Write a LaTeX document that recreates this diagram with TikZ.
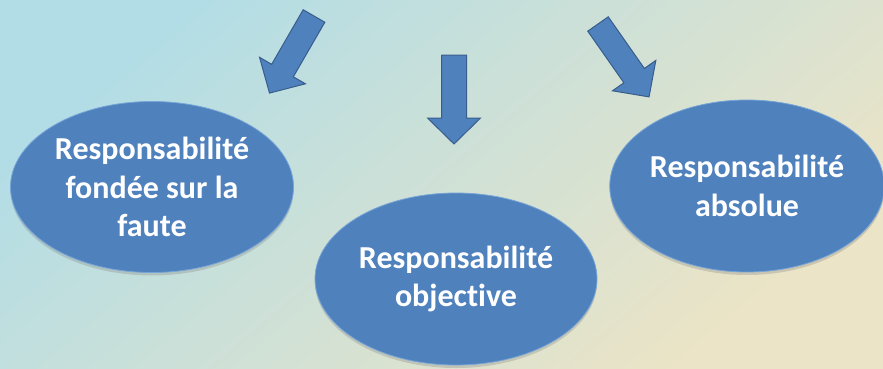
\documentclass[tikz,border=0pt]{standalone}
\usepackage{fontspec}
\setmainfont{Carlito}[Ligatures=NoCommon]
\definecolor{bgblue}{RGB}{178, 221, 230}
\definecolor{bgmid}{RGB}{208, 229, 225}
\definecolor{bgbeige}{RGB}{236, 228, 198}
\definecolor{ellblue}{RGB}{79, 129, 189}
\definecolor{ellrim}{RGB}{120, 165, 215}
\definecolor{arrowedge}{RGB}{56, 93, 140}
\usetikzlibrary{shapes.geometric, shadows}

\tikzset{
  idea/.style={ellipse, fill=ellblue, draw=ellrim, line width=0.8pt, inner sep=0pt,
    text=white, font=\bfseries\fontsize{32}{38.5}\selectfont, align=center,
    drop shadow={shadow xshift=0pt, shadow yshift=-3pt, opacity=0.3}},
  arrowbody/.style={fill=ellblue, draw=arrowedge, line width=1pt, line join=miter},
  downarrow/.pic={
    \draw[arrowbody] (-12.5,0) -- (12.5,0) -- (12.5,-63) -- (26.5,-63) -- (0,-89)
      -- (-26.5,-63) -- (-12.5,-63) -- cycle;
  }
}

\begin{document}
\begin{tikzpicture}[x=1pt, y=1pt]
  \useasboundingbox (0,0) rectangle (883,368);
  \clip (0,0) rectangle (883,368);

  % Background
  \shade[top color=bgblue, middle color=bgmid, bottom color=bgbeige, shading angle=40]
    (0,0) rectangle (883,368);

  % Arrows from above
  \pic[rotate=-30] at (314,352) {downarrow};
  \pic at (454,313) {downarrow};
  \pic[rotate=35] at (598,344) {downarrow};

  % Three kinds of liability
  \node[idea, minimum width=283pt, minimum height=171pt] (faute) at (152,181)
    {Responsabilité\\fondée sur la\\faute};
  \node[idea, minimum width=282pt, minimum height=172pt] (objective) at (456,89)
    {Responsabilité\\objective};
  \node[idea, minimum width=270pt, minimum height=172pt] (absolue) at (747,182)
    {Responsabilité\\absolue};
\end{tikzpicture}
\end{document}
